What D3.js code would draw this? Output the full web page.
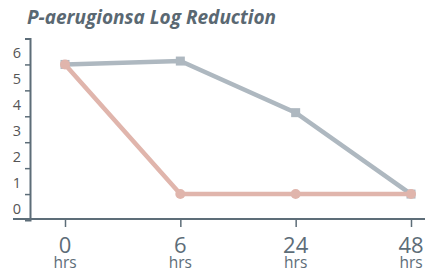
<!DOCTYPE html>
<html>
<head>
<meta charset="utf-8">
<script src="https://cdnjs.cloudflare.com/ajax/libs/d3/7.8.5/d3.min.js"></script>
<style>
body { margin: 0; background: #fff; }
</style>
</head>
<body>
<div id="chart"></div>
<script>
// data
var hours = ["0", "6", "24", "48"];
var treated = [5, 5.13, 3.14, 0];   // gray squares
var control = [5, 0, 0, 0];         // pink circles
var yTicks = [0, 1, 2, 3, 4, 5, 6];

var W = 425, H = 272;
var axisColor = "#5d6d78";

var svg = d3.select("#chart").append("svg")
	.attr("width", W)
	.attr("height", H);

svg.append("text")
	.attr("x", 27)
	.attr("y", 24)
	.attr("font-family", "Open Sans")
	.attr("font-style", "italic")
	.attr("font-weight", "bold")
	.attr("font-size", "19px")
	.attr("fill", "#5a6872")
	.text("P-aerugionsa Log Reduction");

var x = d3.scalePoint().domain(hours).range([65, 411]);
var y = d3.scaleLinear().domain([-1, 6]).range([220, 38.5]);

// y axis
var yAxis = svg.append("g")
	.attr("transform", "translate(30,0)")
	.call(d3.axisLeft(y).tickValues(yTicks).tickSize(5).tickSizeOuter(5).tickFormat(d3.format("d")));
yAxis.select(".domain").attr("stroke", axisColor).attr("stroke-width", 2);
yAxis.selectAll(".tick line").attr("stroke", axisColor).attr("stroke-width", 1.5);
yAxis.selectAll(".tick text")
	.attr("x", -9)
	.attr("dy", "19")
	.attr("font-family", "Open Sans")
	.attr("font-size", "14.5px")
	.attr("fill", "#555");

// x axis
var xAxis = svg.append("g")
	.attr("transform", "translate(0,219)")
	.call(d3.axisBottom(x).tickSize(8).tickSizeOuter(0).tickFormat(""));
xAxis.select(".domain").attr("d", "M13,0H425").attr("stroke", axisColor).attr("stroke-width", 2);
xAxis.selectAll(".tick line").attr("stroke", axisColor).attr("stroke-width", 1.5);

var xl = svg.append("g").selectAll("g")
	.data(hours)
	.enter().append("g")
	.attr("transform", function(d){ return "translate(" + x(d) + ",0)"; });
xl.append("text")
	.attr("y", 253)
	.attr("text-anchor", "middle")
	.attr("font-family", "Open Sans")
	.attr("font-size", "22px")
	.attr("fill", axisColor)
	.text(function(d){ return d; });
xl.append("text")
	.attr("y", 268)
	.attr("text-anchor", "middle")
	.attr("font-family", "Open Sans")
	.attr("font-size", "15.5px")
	.attr("fill", axisColor)
	.text("hrs");

var line = d3.line()
	.x(function(d, i){ return x(hours[i]); })
	.y(function(d){ return y(d); });

// gray series
svg.append("path")
	.datum(treated)
	.attr("d", line)
	.attr("fill", "none")
	.attr("stroke", "#aeb8c0")
	.attr("stroke-width", 4.5);
svg.selectAll(".sq")
	.data(treated)
	.enter().append("rect")
	.attr("class", "sq")
	.attr("x", function(d, i){ return x(hours[i]) - 4.5; })
	.attr("y", function(d){ return y(d) - 4.5; })
	.attr("width", 9)
	.attr("height", 9)
	.attr("fill", "#aeb8c0");

// pink series
svg.append("path")
	.datum(control)
	.attr("d", line)
	.attr("fill", "none")
	.attr("stroke", "#e0b5ac")
	.attr("stroke-width", 4.5);
svg.selectAll(".dot")
	.data(control)
	.enter().append("circle")
	.attr("class", "dot")
	.attr("cx", function(d, i){ return x(hours[i]); })
	.attr("cy", function(d){ return y(d); })
	.attr("r", 5)
	.attr("fill", "#e0b5ac");
</script>
</body>
</html>
